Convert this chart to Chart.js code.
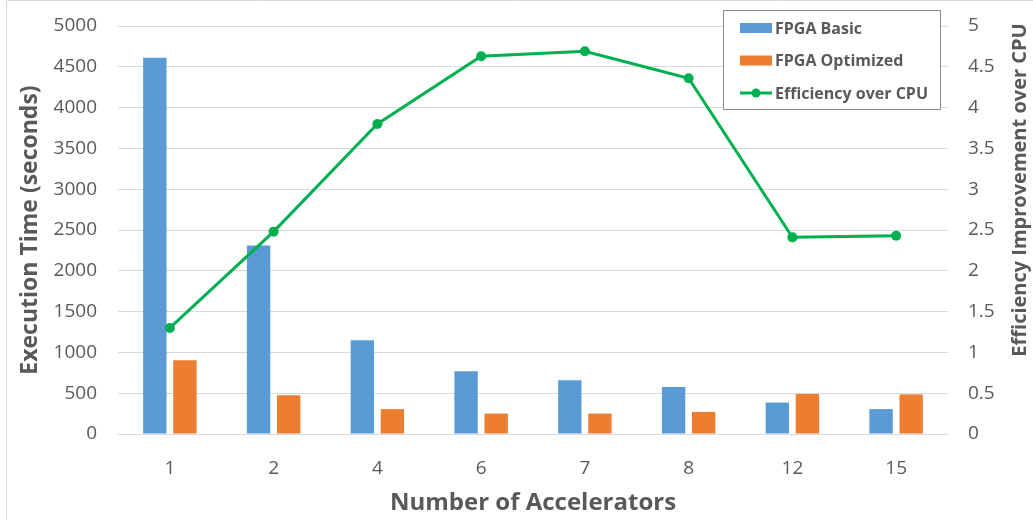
<!DOCTYPE html>
<html>
<head>
<meta charset="utf-8">
<script src="https://cdn.jsdelivr.net/npm/chart.js@4.4.1/dist/chart.umd.min.js"></script>
<style>
  html, body { margin: 0; padding: 0; background: #ffffff; }
  #wrap { width: 1033px; height: 520px; }
</style>
</head>
<body>
<div id="wrap"><canvas id="chart" width="1033" height="520"></canvas></div>
<script>
// Accelerator counts on the x axis
const categories = ['1', '2', '4', '6', '7', '8', '12', '15'];
// Execution time in seconds
const fpgaBasic = [4610, 2310, 1150, 770, 660, 575, 385, 305];
const fpgaOptimized = [905, 475, 305, 250, 250, 270, 490, 485];
// Efficiency improvement over CPU (right axis)
const efficiency = [1.3, 2.48, 3.8, 4.63, 4.69, 4.36, 2.41, 2.43];

const seriesNames = ['FPGA Basic', 'FPGA Optimized', 'Efficiency over CPU'];
const axisTitles = {
  left: 'Execution Time (seconds)',
  right: 'Efficiency Improvement over CPU',
  bottom: 'Number of Accelerators'
};

const FONT = "'Open Sans', 'DejaVu Sans', sans-serif";
const TEXT = '#595959';
const GRID = '#D9D9D9';
const BLUE = '#5B9BD5';
const ORANGE = '#ED7D31';
const GREEN = '#00B050';

const plainNumber = (v) => String(v);

// Frame line around the chart
const framePlugin = {
  id: 'frame',
  beforeDraw(chart) {
    const ctx = chart.ctx;
    ctx.save();
    ctx.strokeStyle = GRID;
    ctx.lineWidth = 1;
    ctx.beginPath();
    ctx.moveTo(6.5, 520);
    ctx.lineTo(6.5, 0.5);
    ctx.lineTo(1033, 0.5);
    ctx.stroke();
    ctx.restore();
  }
};

// Right axis title, reading bottom-to-top like the left one
const rightTitlePlugin = {
  id: 'rightTitle',
  afterDraw(chart) {
    const ctx = chart.ctx;
    ctx.save();
    ctx.translate(1020, 190);
    ctx.rotate(-Math.PI / 2);
    ctx.font = 'bold 20px ' + FONT;
    ctx.fillStyle = TEXT;
    ctx.textAlign = 'center';
    ctx.textBaseline = 'middle';
    ctx.fillText(axisTitles.right, 0, 0);
    ctx.restore();
  }
};

// Boxed legend drawn over the upper right of the plot
const boxLegendPlugin = {
  id: 'boxLegend',
  afterDraw(chart) {
    const ctx = chart.ctx;
    const box = { x: 723.5, y: 10.5, w: 217, h: 99 };
    ctx.save();
    ctx.fillStyle = '#ffffff';
    ctx.fillRect(box.x, box.y, box.w, box.h);
    ctx.strokeStyle = '#8C8C8C';
    ctx.lineWidth = 1;
    ctx.strokeRect(box.x, box.y, box.w, box.h);
    const rows = [28, 60.5, 93];
    ctx.font = 'bold 16px ' + FONT;
    ctx.textBaseline = 'middle';
    ctx.textAlign = 'left';
    chart.data.datasets.forEach((ds, i) => {
      const cy = rows[i];
      if (ds.type === 'line') {
        ctx.strokeStyle = ds.borderColor;
        ctx.lineWidth = 3;
        ctx.beginPath();
        ctx.moveTo(740, cy);
        ctx.lineTo(772, cy);
        ctx.stroke();
        ctx.fillStyle = ds.borderColor;
        ctx.beginPath();
        ctx.arc(756, cy, 4.5, 0, Math.PI * 2);
        ctx.fill();
      } else {
        ctx.fillStyle = ds.backgroundColor;
        ctx.fillRect(740, cy - 5, 32, 10);
      }
      ctx.fillStyle = TEXT;
      ctx.fillText(ds.label, 775, cy + 1);
    });
    ctx.restore();
  }
};

new Chart(document.getElementById('chart'), {
  data: {
    labels: categories,
    datasets: [
      {
        type: 'bar',
        label: seriesNames[0],
        data: fpgaBasic,
        backgroundColor: BLUE,
        yAxisID: 'y',
        order: 2,
        categoryPercentage: 0.58,
        barPercentage: 0.777
      },
      {
        type: 'bar',
        label: seriesNames[1],
        data: fpgaOptimized,
        backgroundColor: ORANGE,
        yAxisID: 'y',
        order: 2,
        categoryPercentage: 0.58,
        barPercentage: 0.777
      },
      {
        type: 'line',
        label: seriesNames[2],
        data: efficiency,
        borderColor: GREEN,
        backgroundColor: GREEN,
        borderWidth: 3,
        pointRadius: 5,
        pointBackgroundColor: GREEN,
        pointBorderWidth: 0,
        tension: 0,
        yAxisID: 'y1',
        order: 0
      }
    ]
  },
  options: {
    responsive: false,
    animation: false,
    devicePixelRatio: 1,
    layout: { padding: { top: 26, left: 0, right: 0, bottom: 0 } },
    plugins: {
      legend: { display: false },
      tooltip: { enabled: false }
    },
    scales: {
      x: {
        offset: true,
        grid: { display: false },
        border: { display: false },
        ticks: { color: TEXT, font: { family: FONT, size: 19 }, padding: 15, maxRotation: 0 },
        title: {
          display: true,
          text: axisTitles.bottom,
          color: TEXT,
          font: { family: FONT, size: 24, weight: 'bold' },
          padding: { top: 0, bottom: 2 }
        },
        afterFit(s) { s.height = 86; }
      },
      y: {
        position: 'left',
        min: 0,
        max: 5000,
        ticks: { stepSize: 500, color: TEXT, font: { family: FONT, size: 19 }, padding: 0, callback: plainNumber },
        grid: { color: GRID, lineWidth: 1, drawTicks: true, tickLength: 21, tickColor: 'rgba(0,0,0,0)' },
        border: { display: false },
        title: {
          display: true,
          text: axisTitles.left,
          color: TEXT,
          font: { family: FONT, size: 23, weight: 'bold' },
          padding: { top: 17, bottom: 0 }
        },
        afterFit(s) { s.width = 118; }
      },
      y1: {
        position: 'right',
        min: 0,
        max: 5,
        ticks: { stepSize: 0.5, color: TEXT, font: { family: FONT, size: 19 }, padding: 0, callback: plainNumber },
        grid: { display: false, drawOnChartArea: false, drawTicks: true, tickLength: 20, tickColor: 'rgba(0,0,0,0)' },
        border: { display: false },
        afterFit(s) { s.width = 85; }
      }
    }
  },
  plugins: [framePlugin, rightTitlePlugin, boxLegendPlugin]
});
</script>
</body>
</html>
